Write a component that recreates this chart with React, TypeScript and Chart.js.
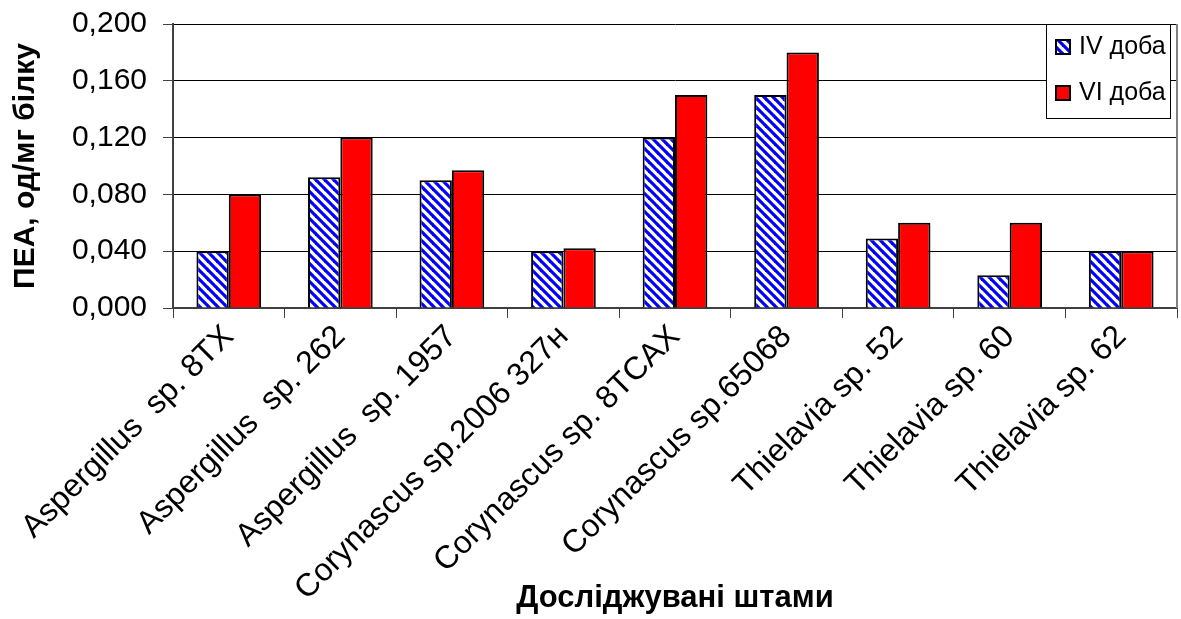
import React, { useEffect, useRef } from "react";
import { Chart, registerables } from "chart.js";

Chart.register(...registerables);

const categories = [
  "Aspergillus  sp. 8TX",
  "Aspergillus  sp. 262",
  "Aspergillus  sp. 1957",
  "Corynascus sp.2006 327н",
  "Corynascus sp. 8TCAX",
  "Corynascus sp.65068",
  "Thielavia sp. 52",
  "Thielavia sp. 60",
  "Thielavia sp. 62",
];
const seriesNames = ["IV доба", "VI доба"];
const day4 = [0.04, 0.092, 0.09, 0.04, 0.12, 0.15, 0.049, 0.023, 0.04];
const day6 = [0.08, 0.12, 0.097, 0.042, 0.15, 0.18, 0.06, 0.06, 0.04];
const yMin = 0;
const yMax = 0.2;
const yStep = 0.04;
const yTitle = "ПЕА, од/мг білку";
const xTitle = "Досліджувані штами";

function makeHatch(): CanvasPattern | string {
  const t = document.createElement("canvas");
  const s = 9;
  t.width = s;
  t.height = s;
  const c = t.getContext("2d");
  if (!c) return "#0000ff";
  c.fillStyle = "#ffffff";
  c.fillRect(0, 0, s, s);
  c.strokeStyle = "#0000ff";
  c.lineWidth = 3.2;
  for (const k of [-s, 0, s]) {
    c.beginPath();
    c.moveTo(k - 1, -1);
    c.lineTo(k + s + 1, s + 1);
    c.stroke();
  }
  const p = c.createPattern(t, "repeat");
  return p || "#0000ff";
}

export default function App() {
  const ref = useRef<HTMLCanvasElement | null>(null);
  useEffect(() => {
    document.body.style.margin = "0";
    document.body.style.overflow = "hidden";
    const canvas = ref.current;
    if (!canvas) return;
    const hatch = makeHatch();
    const font = "'Liberation Sans', Arial, sans-serif";

    const legendPlugin = {
      id: "customLegend",
      afterDraw(chart: any) {
        const ctx = chart.ctx;
        const { right, top } = chart.chartArea;
        ctx.save();
        ctx.strokeStyle = "#808080";
        ctx.lineWidth = 2;
        ctx.beginPath();
        ctx.moveTo(right, top);
        ctx.lineTo(right, chart.chartArea.bottom);
        ctx.stroke();
        const bx = right - 131;
        const by = top;
        const bw = 124;
        const bh = 94;
        ctx.fillStyle = "#ffffff";
        ctx.fillRect(bx, by, bw, bh);
        ctx.strokeStyle = "#000000";
        ctx.lineWidth = 1;
        ctx.strokeRect(bx + 0.5, by + 0.5, bw, bh);
        const fills = [hatch, "#ff0000"];
        const ys = [by + 23, by + 69];
        ctx.font = "25px " + font;
        ctx.textBaseline = "middle";
        ctx.textAlign = "left";
        for (let i = 0; i < 2; i++) {
          ctx.fillStyle = fills[i] as any;
          ctx.fillRect(bx + 10, ys[i] - 7, 14, 14);
          ctx.strokeStyle = "#000";
          ctx.lineWidth = 2;
          ctx.strokeRect(bx + 10, ys[i] - 7, 14, 14);
          ctx.fillStyle = "#000";
          ctx.fillText(seriesNames[i], bx + 33, ys[i]);
        }
        ctx.restore();
      },
    };

    const chart = new Chart(canvas, {
      type: "bar",
      data: {
        labels: categories,
        datasets: [
          {
            label: seriesNames[0],
            data: day4,
            backgroundColor: hatch as any,
            borderColor: "#000000",
            borderWidth: 2,
            categoryPercentage: 0.58,
            barPercentage: 1,
          },
          {
            label: seriesNames[1],
            data: day6,
            backgroundColor: "#ff0000",
            borderColor: "#000000",
            borderWidth: 2,
            categoryPercentage: 0.58,
            barPercentage: 1,
          },
        ],
      },
      options: {
        responsive: false,
        animation: false,
        layout: { padding: { top: 13, right: 4, left: 0, bottom: 0 } },
        plugins: {
          legend: { display: false },
          tooltip: { enabled: false },
        },
        scales: {
          x: {
            offset: true,
            grid: {
              offset: true,
              drawOnChartArea: false,
              drawTicks: true,
              tickLength: 10,
              color: "#404040",
            },
            border: { color: "#404040", width: 2 },
            ticks: {
              maxRotation: 45,
              minRotation: 45,
              autoSkip: false,
              color: "#000",
              padding: 0,
              font: { family: font, size: 32 },
            },
            title: {
              display: true,
              text: xTitle,
              color: "#000",
              font: { family: font, size: 31, weight: "bold" },
              padding: { top: 0, bottom: 2 },
            },
            afterFit(scale: any) {
              scale.height = 311;
            },
          },
          y: {
            min: yMin,
            max: yMax,
            ticks: {
              stepSize: yStep,
              color: "#000",
              padding: 16,
              font: { family: font, size: 30 },
              callback: (v: any) => Number(v).toFixed(3).replace(".", ","),
            },
            grid: {
              color: "#000000",
              lineWidth: 1,
              tickLength: 10,
              tickColor: "#404040",
            },
            border: { color: "#404040", width: 2 },
            title: {
              display: true,
              text: yTitle,
              color: "#000",
              font: { family: font, size: 30, weight: "bold" },
              padding: { top: 8, bottom: 0 },
            },
            afterFit(scale: any) {
              scale.width = 173;
            },
          },
        },
      },
      plugins: [legendPlugin],
    });
    return () => chart.destroy();
  }, []);
  return (
    <canvas
      ref={ref}
      width={1181}
      height={629}
      style={{ display: "block", marginTop: "-10px" }}
    />
  );
}
